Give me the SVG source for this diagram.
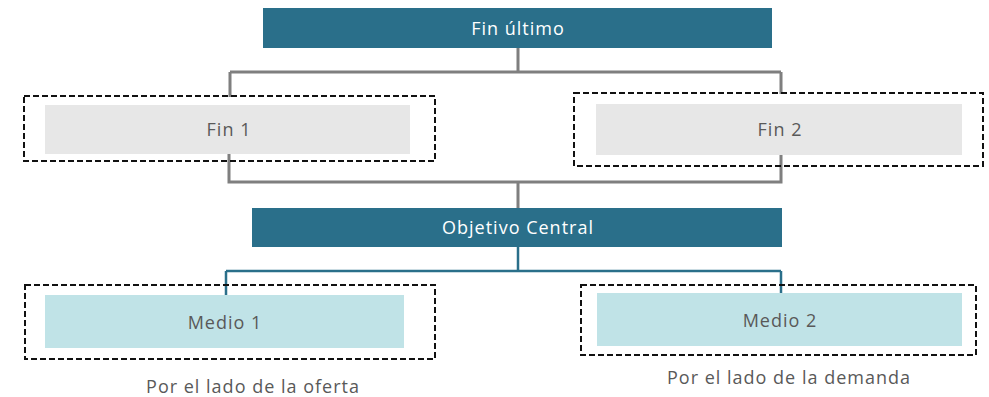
<svg xmlns="http://www.w3.org/2000/svg" width="989" height="397" viewBox="0 0 989 397">
<style>
.dark{fill:#2a6f8a}
.gray{fill:#e7e7e7}
.light{fill:#c0e3e7}
.dash{fill:none;stroke:#111;stroke-width:2;stroke-dasharray:6 3}
text{font-family:"Open Sans",sans-serif;font-size:18px;letter-spacing:1px;text-anchor:middle}
.lw{fill:#fff}
.lg{fill:#595959}
.cg{fill:none;stroke:#7f7f7f;stroke-width:3}
.ct{fill:none;stroke:#2a6f8a;stroke-width:2.5}
</style>
<rect width="989" height="397" fill="#fff"/>
<g id="connectors">
<path class="cg" d="M518 48V72M230 72H781M230 72V97M781 72V94"/>
<path class="cg" d="M229 154V182H781V155M518 182V208"/>
<path class="ct" d="M518 247V271M226 271H781M226 271V295M781 271V293"/>
</g>
<g id="fin-ultimo">
<rect class="dark" x="263" y="8" width="509" height="40"/>
<text class="lw" x="518" y="35">Fin último</text>
</g>
<g id="fin1">
<rect class="dash" x="24" y="96" width="411" height="65"/>
<rect class="gray" x="45" y="105" width="365" height="49"/>
<text class="lg" x="229" y="136">Fin 1</text>
</g>
<g id="fin2">
<rect class="dash" x="574" y="93" width="409" height="73"/>
<rect class="gray" x="596" y="104" width="366" height="51"/>
<text class="lg" x="780" y="136">Fin 2</text>
</g>
<g id="objetivo">
<rect class="dark" x="252" y="208" width="530" height="39"/>
<text class="lw" x="518" y="234">Objetivo Central</text>
</g>
<g id="medio1">
<rect class="dash" x="25" y="285" width="410" height="74"/>
<rect class="light" x="45" y="295" width="359" height="53"/>
<text class="lg" x="225" y="329">Medio 1</text>
</g>
<g id="medio2">
<rect class="dash" x="581" y="285" width="395" height="70"/>
<rect class="light" x="597" y="293" width="365" height="53"/>
<text class="lg" x="780" y="327">Medio 2</text>
</g>
<text class="lg" x="253" y="393">Por el lado de la oferta</text>
<text class="lg" x="789" y="384">Por el lado de la demanda</text>
</svg>
